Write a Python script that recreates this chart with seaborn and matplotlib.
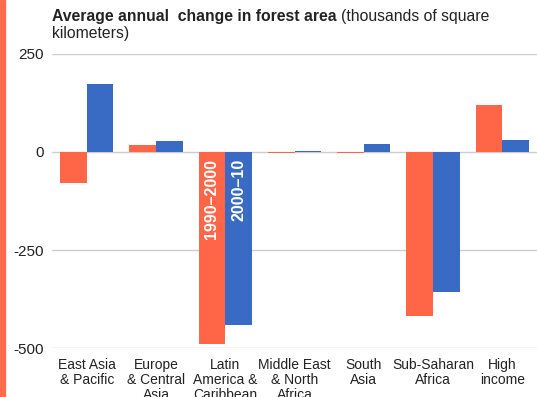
import numpy as np
import pandas as pd
import matplotlib.pyplot as plt
import seaborn as sns
from matplotlib import font_manager

# ---------- Data ----------
regions = ["East Asia\n& Pacific", "Europe\n& Central\nAsia", "Latin\nAmerica &\nCaribbean",
           "Middle East\n& North\nAfrica", "South\nAsia", "Sub-Saharan\nAfrica", "High\nincome"]
periods = ["1990\u20132000", "2000\u201310"]
change_1990_2000 = [-79, 18, -490, -2, -2, -418, 120]
change_2000_10 = [173, 28, -441, 3, 20, -357, 31]

colors = ["#FF6647", "#3A6BC4"]

df = pd.DataFrame({
    "region": regions * 2,
    "period": [periods[0]] * len(regions) + [periods[1]] * len(regions),
    "value": change_1990_2000 + change_2000_10,
})

# narrow font for category labels if available
try:
    font_manager.findfont("Liberation Sans Narrow", fallback_to_default=False)
    narrow, narrow_size = "Liberation Sans Narrow", 11
except Exception:
    narrow, narrow_size = "Liberation Sans", 10

# ---------- Plot ----------
sns.set_style("white")
plt.rcParams["font.family"] = ["Liberation Sans", "DejaVu Sans"]

fig = plt.figure(figsize=(5.37, 3.97), dpi=100)
ax = fig.add_axes([0.097, 0.1234, 0.903, 0.7406])

sns.barplot(data=df, x="region", y="value", hue="period", palette=colors,
            width=0.77, gap=0, saturation=1, linewidth=0, ax=ax, legend=False)

ax.set_ylim(-500, 250)
ax.set_yticks([250, 0, -250, -500])
ax.set_yticklabels(["250", "0", "-250", "-500"])
ax.set_xlim(-0.5, len(regions) - 0.5)
ax.grid(axis="y", color="#CCCCCC", linewidth=1)
ax.set_axisbelow(True)
for s in ax.spines.values():
    s.set_visible(False)
ax.tick_params(axis="y", length=0, labelsize=11, pad=6, labelcolor="#222222")
ax.tick_params(axis="x", length=0, labelsize=narrow_size, pad=7, labelcolor="#222222")
for lab in ax.get_xticklabels():
    lab.set_family([narrow, "DejaVu Sans"])
    lab.set_linespacing(1.1)
ax.set_xlabel("")
ax.set_ylabel("")

# period labels inside the Latin America bars
idx = 2
for cont, name in zip(ax.containers, periods):
    p = cont.patches[idx]
    cx = p.get_x() + p.get_width() / 2
    ax.text(cx, -18, name, rotation=90, ha="center", va="top", color="white",
            fontsize=11.5, fontweight="bold")

# title
fig.text(0.097, 0.978, "Average annual  change in forest area", fontsize=11.3,
         fontweight="bold", ha="left", va="top", color="#222222")
fig.canvas.draw()
bb = fig.texts[0].get_window_extent()
x2 = bb.x1 / fig.bbox.width
fig.text(x2 + 0.008, 0.978, "(thousands of square", fontsize=11.3,
         ha="left", va="top", color="#222222")
fig.text(0.097, 0.978 - 0.044, "kilometers)", fontsize=11.3,
         ha="left", va="top", color="#222222")

# orange strip at left edge
fig.patches.append(plt.Rectangle((0, 0), 0.01, 1, transform=fig.transFigure,
                                 color="#FF6B4D", zorder=0))

plt.savefig("out.png", dpi=100)
